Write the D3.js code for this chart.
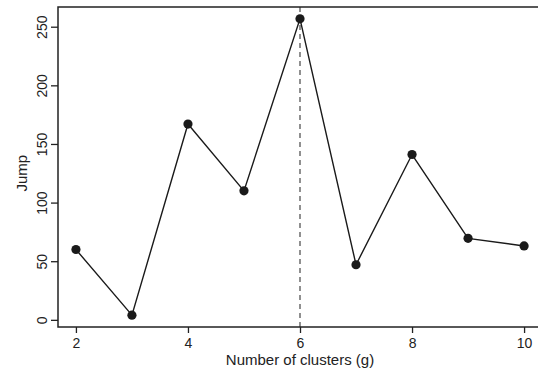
<!DOCTYPE html>
<html>
<head>
<meta charset="utf-8">
<script src="https://cdn.jsdelivr.net/npm/d3@7"></script>
<style>
  body { margin: 0; background: #fff; }
  svg { display: block; font-family: "Liberation Sans", Arial, sans-serif; }
</style>
</head>
<body>
<div id="chart"></div>
<script>
// number of clusters and jump statistic
const clusters = [2, 3, 4, 5, 6, 7, 8, 9, 10];
const jump = [60, 4, 167, 110, 256.7, 47, 141, 69.5, 63];
const xTicks = [2, 4, 6, 8, 10];
const yTicks = [0, 50, 100, 150, 200, 250];
const chosenG = 6;

const width = 538, height = 373;
const box = {left: 58, top: 7, right: 542, bottom: 327};

const svg = d3.select('#chart').append('svg')
    .attr('width', width)
    .attr('height', height);

// R style 4% padding around the data range
const xExt = d3.extent(clusters);
const yExt = d3.extent(jump);
const xPad = (xExt[1] - xExt[0]) * 0.04;
const yPad = (yExt[1] - yExt[0]) * 0.04;

const x = d3.scaleLinear()
    .domain([xExt[0] - xPad, xExt[1] + xPad])
    .range([box.left, box.right]);

const y = d3.scaleLinear()
    .domain([yExt[0] - yPad, yExt[1] + yPad])
    .range([box.bottom, box.top]);

// dashed line at chosen number of clusters
svg.append('line')
    .attr('x1', x(chosenG)).attr('x2', x(chosenG))
    .attr('y1', box.top).attr('y2', box.bottom)
    .attr('stroke', '#555')
    .attr('stroke-width', 1.3)
    .attr('stroke-dasharray', '5,4');

const line = d3.line()
    .x((d, i) => x(clusters[i]))
    .y(d => y(d));

svg.append('path')
    .datum(jump)
    .attr('d', line)
    .attr('fill', 'none')
    .attr('stroke', '#1a1a1a')
    .attr('stroke-width', 1.4);

svg.selectAll('circle.pt')
    .data(jump)
    .enter()
    .append('circle')
    .attr('class', 'pt')
    .attr('cx', (d, i) => x(clusters[i]))
    .attr('cy', d => y(d))
    .attr('r', 4.6)
    .attr('fill', '#1a1a1a');

// box (right side falls off the page as in the original)
svg.append('rect')
    .attr('x', box.left)
    .attr('y', box.top)
    .attr('width', box.right - box.left)
    .attr('height', box.bottom - box.top)
    .attr('fill', 'none')
    .attr('stroke', '#222')
    .attr('stroke-width', 1.5);

const xAxis = svg.append('g')
    .attr('transform', `translate(0,${box.bottom})`)
    .call(d3.axisBottom(x).tickValues(xTicks).tickSize(6).tickPadding(5).tickFormat(d3.format('d')));

const yAxis = svg.append('g')
    .attr('transform', `translate(${box.left},0)`)
    .call(d3.axisLeft(y).tickValues(yTicks).tickSize(7).tickPadding(4).tickFormat(d3.format('d')));

[xAxis, yAxis].forEach(a => {
    a.select('.domain').remove();
    a.selectAll('.tick line').attr('stroke', '#222').attr('stroke-width', 1.3);
    a.selectAll('.tick text')
        .attr('fill', '#222')
        .style('font-size', '14px')
        .style('font-family', '"Liberation Sans", Arial, sans-serif');
});

// y labels are rotated like R's default las=0
yAxis.selectAll('.tick text')
    .attr('x', null)
    .attr('dy', null)
    .attr('transform', 'translate(-11,0) rotate(-90)')
    .attr('text-anchor', 'middle');

svg.append('text')
    .attr('x', (x(2) + x(10)) / 2)
    .attr('y', 365)
    .attr('text-anchor', 'middle')
    .attr('fill', '#222')
    .style('font-size', '15px')
    .text('Number of clusters (g)');

svg.append('text')
    .attr('transform', `translate(27,${(y(0) + y(250)) / 2}) rotate(-90)`)
    .attr('text-anchor', 'middle')
    .attr('fill', '#222')
    .style('font-size', '15px')
    .text('Jump');
</script>
</body>
</html>
